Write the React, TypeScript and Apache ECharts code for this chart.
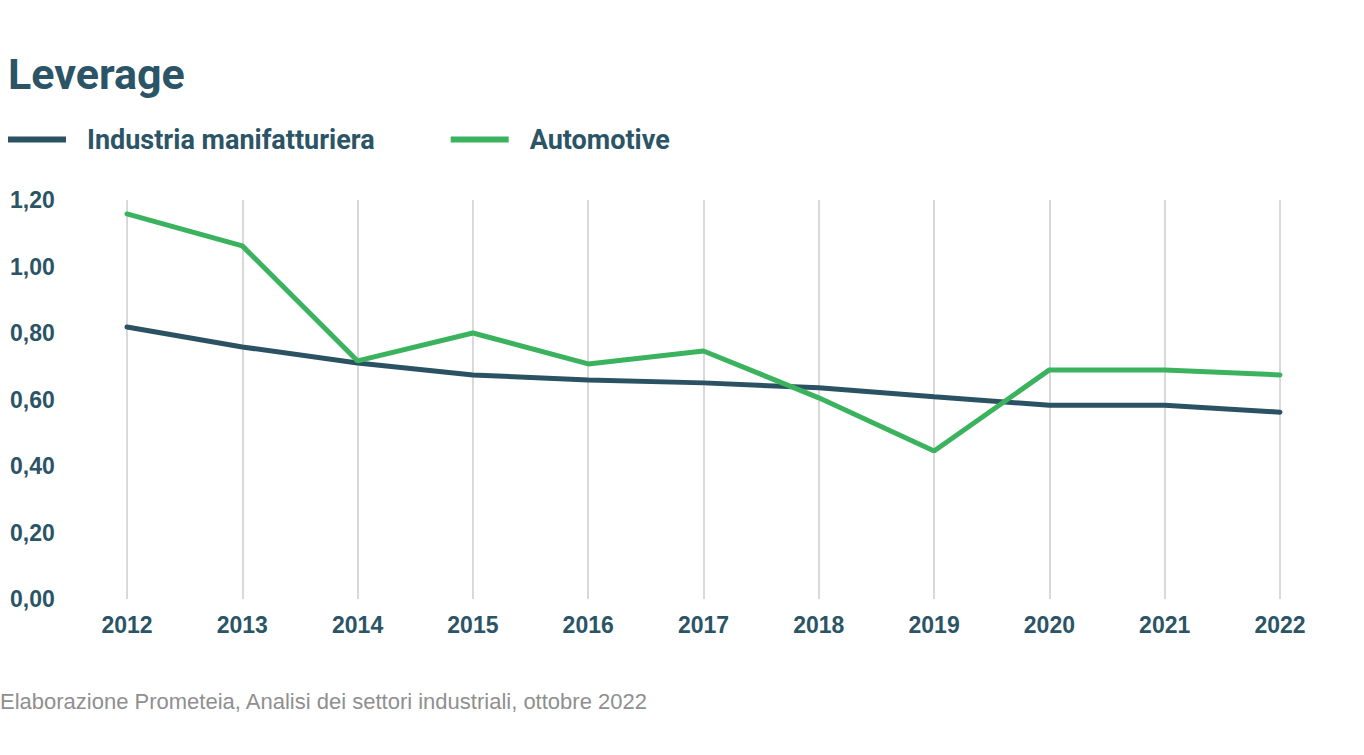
import React, { useEffect, useRef } from "react";
import * as echarts from "echarts";

const years = ["2012", "2013", "2014", "2015", "2016", "2017", "2018", "2019", "2020", "2021", "2022"];
const industria = [0.818, 0.758, 0.71, 0.674, 0.659, 0.65, 0.635, 0.608, 0.583, 0.583, 0.562];
const automotive = [1.158, 1.062, 0.716, 0.8, 0.707, 0.746, 0.605, 0.445, 0.689, 0.689, 0.674];
const seriesNames = ["Industria manifatturiera", "Automotive"];
const colors = ["#2b5263", "#3bb35e"];

export default function App() {
  const ref = useRef<HTMLDivElement>(null);
  useEffect(() => {
    if (!ref.current) return;
    const chart = echarts.init(ref.current, null, { renderer: "svg" });
    chart.setOption({
      animation: false,
      backgroundColor: "#ffffff",
      title: {
        text: "Leverage",
        left: 3,
        top: 47,
        textStyle: { fontFamily: "Roboto", fontWeight: "bold", fontSize: 43, color: "#2b5566" },
      },
      legend: {
        left: 3,
        top: 121,
        icon: "rect",
        itemWidth: 58,
        itemHeight: 6,
        itemGap: 76,
        textStyle: {
          fontFamily: "Roboto",
          fontWeight: "bold",
          fontSize: 27,
          color: "#2b5566",
          padding: [0, 0, 0, 16],
        },
        data: seriesNames,
      },
      grid: { left: 127, right: 84, top: 200, bottom: 156, containLabel: false },
      xAxis: {
        type: "category",
        data: years,
        boundaryGap: false,
        axisLine: { show: false },
        axisTick: { show: false },
        splitLine: { show: true, lineStyle: { color: "#d9d9d9", width: 2 } },
        axisLabel: {
          margin: 14,
          fontFamily: "Liberation Sans",
          fontWeight: "bold",
          fontSize: 23,
          color: "#2b5566",
        },
      },
      yAxis: {
        type: "value",
        min: 0,
        max: 1.2,
        interval: 0.2,
        axisLine: { show: false },
        axisTick: { show: false },
        splitLine: { show: false },
        axisLabel: {
          align: "left",
          margin: 117,
          fontFamily: "Liberation Sans",
          fontWeight: "bold",
          fontSize: 23,
          color: "#2b5566",
          formatter: (v: number) => v.toFixed(2).replace(".", ","),
        },
      },
      series: [
        {
          name: seriesNames[0],
          type: "line",
          data: industria,
          showSymbol: false,
          symbol: "none",
          lineStyle: { width: 5, color: colors[0], cap: "round" },
          itemStyle: { color: colors[0] },
        },
        {
          name: seriesNames[1],
          type: "line",
          data: automotive,
          showSymbol: false,
          symbol: "none",
          lineStyle: { width: 5, color: colors[1], cap: "round" },
          itemStyle: { color: colors[1] },
        },
      ],
      graphic: [
        {
          type: "text",
          left: 0,
          top: 690,
          style: {
            text: "Elaborazione Prometeia, Analisi dei settori industriali, ottobre 2022",
            fontFamily: "Liberation Sans",
            fontSize: 22,
            fill: "#8f8f8f",
          },
        },
      ],
    });
    return () => chart.dispose();
  }, []);
  return (
    <div
      ref={ref}
      style={{ position: "fixed", left: 0, top: 0, width: 1364, height: 755 }}
    />
  );
}
